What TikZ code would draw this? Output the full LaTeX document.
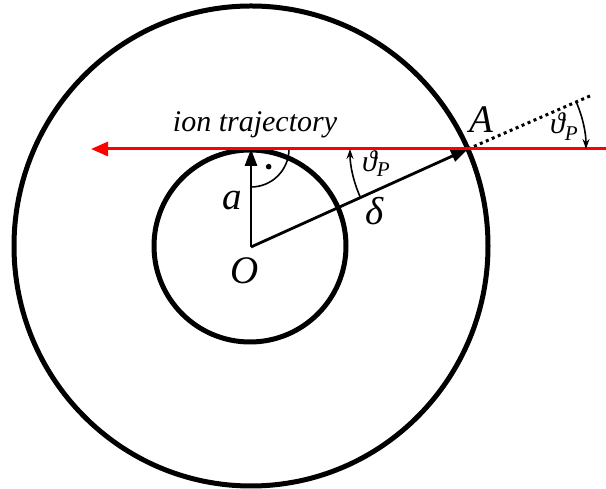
\documentclass[tikz,border=0pt]{standalone}
\usepackage{fontspec}
\setmainfont{Liberation Serif}
\usetikzlibrary{arrows.meta,calc}
\begin{document}
\begin{tikzpicture}[x=1pt,y=1pt,
  ring/.style={line width=5pt},
  vec/.style={line width=2.8pt,-{Triangle[length=17pt,width=12pt]}},
  ray/.style={line width=3pt,red,-{Triangle[length=17pt,width=14pt]}},
  angarc/.style={line width=1.6pt,-{Stealth[length=10pt,width=7pt]}},
  lbl/.style={font=\fontsize{39}{40}\selectfont\itshape,inner sep=0pt},
  small/.style={font=\fontsize{30}{32}\selectfont\itshape,inner sep=0pt}]
\useasboundingbox (0,0) rectangle (606,489);
% points
\coordinate (O) at (251,242);
\coordinate (T) at (251,340);
\coordinate (A) at (468,340);
\coordinate (R) at (606,340);
\coordinate (L) at (91,340);
\coordinate (D) at ($(A)+(23.5:134)$);
% circles
\draw[ring] (251,243) ellipse [x radius=237, y radius=240];
\draw[ring] (250,243) circle [radius=96];
% right angle mark
\draw[line width=1.6pt] ($(T)+(0:38)$) arc[start angle=0, end angle=-90, radius=38];
\fill ($(T)+(-45:25)$) circle[radius=2.8];
% vectors
\draw[vec] (O) -- (T);
\draw[vec] (O) -- (A);
% dotted extension
\draw[line width=3pt, dash pattern=on 3pt off 3.5pt] (A) -- (D);
% ion trajectory
\draw[ray] (R) -- (L);
% angle arcs
\draw[angarc] ($(A)+(204.3:118)$) arc[start angle=204.3, end angle=180, radius=118];
\draw[angarc] ($(A)+(23.5:118)$) arc[start angle=23.5, end angle=0, radius=118];
% labels
\node[lbl] (lO) at (245,218) {O};
\node[lbl] (la) at (232,288) {a};
\node[lbl] (ld) at (375,278) {δ};
\node[lbl] (lA) at (481,369) {A};
\node[font=\fontsize{30}{32}\selectfont\itshape,anchor=base,inner sep=0pt] (lt) at (255,357) {ion trajectory};
\node[small,anchor=base west] (th1) at (362,317) {ϑ{\fontsize{21}{21}\selectfont\raisebox{-5pt}{P}}};
\node[small,anchor=base west] (th2) at (550,355) {ϑ{\fontsize{21}{21}\selectfont\raisebox{-7pt}{P}}};
\end{tikzpicture}
\end{document}
